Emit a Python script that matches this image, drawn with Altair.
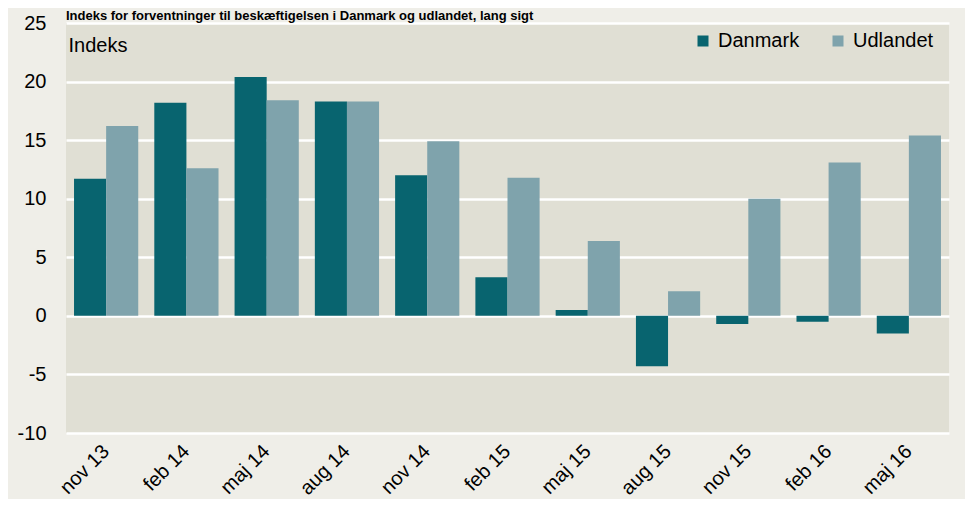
import altair as alt
import pandas as pd

categories = ["nov 13", "feb 14", "maj 14", "aug 14", "nov 14", "feb 15",
              "maj 15", "aug 15", "nov 15", "feb 16", "maj 16"]
danmark = [11.7, 18.2, 20.4, 18.3, 12.0, 3.3, 0.5, -4.3, -0.7, -0.5, -1.5]
udlandet = [16.2, 12.6, 18.4, 18.3, 14.9, 11.8, 6.4, 2.1, 10.0, 13.1, 15.4]
series = ["Danmark", "Udlandet"]
colors = ["#08646f", "#7fa3ac"]
y_ticks = [-10, -5, 0, 5, 10, 15, 20, 25]
title_text = "Indeks for forventninger til beskæftigelsen i Danmark og udlandet, lang sigt"

rows = []
for i, c in enumerate(categories):
    rows.append({"periode": c, "serie": series[0], "value": danmark[i]})
    rows.append({"periode": c, "serie": series[1], "value": udlandet[i]})
df = pd.DataFrame(rows)

FONT = "Liberation Sans"

chart = alt.Chart(df).mark_bar().encode(
    x=alt.X("periode:N", sort=categories,
            scale=alt.Scale(paddingInner=0.2, paddingOuter=0.1),
            axis=alt.Axis(title=None, labelAngle=-45, labelAlign="right",
                          labelBaseline="middle", labelPadding=15,
                          labelFontSize=20, labelFont=FONT, labelColor="#000000",
                          ticks=False, domain=False, grid=False)),
    xOffset=alt.XOffset("serie:N", sort=series),
    y=alt.Y("value:Q", scale=alt.Scale(domain=[-10, 25], nice=False),
            axis=alt.Axis(values=y_ticks, title="Indeks", titleAngle=0,
                          labelExpr="toString(datum.value)",
                          titleX=2, titleY=28, titleAlign="left",
                          titleBaseline="alphabetic", titleFontSize=20,
                          titleFontWeight="normal", titleFont=FONT,
                          titleColor="#000000",
                          labelFontSize=20, labelFont=FONT, labelColor="#000000",
                          labelPadding=20, ticks=False, domain=False,
                          grid=True, gridColor="#ffffff", gridWidth=2.5)),
    color=alt.Color("serie:N", sort=series,
                    scale=alt.Scale(domain=series, range=colors),
                    legend=alt.Legend(title=None, orient="none", legendX=627,
                                      legendY=8, direction="horizontal",
                                      symbolType="square", symbolSize=121,
                                      symbolStrokeWidth=0, labelFontSize=20,
                                      labelFont=FONT, labelColor="#000000",
                                      labelOffset=5, columnPadding=28)),
).properties(
    width=883,
    height=410,
    autosize=alt.AutoSizeParams(type="none"),
    padding={"left": 58, "top": 15, "right": 16, "bottom": 66},
    background="#efeee8",
    title=alt.TitleParams(title_text, anchor="start", frame="group", dx=0,
                          offset=-20, baseline="alphabetic", fontSize=13,
                          fontWeight="bold", font=FONT, color="#000000"),
).configure_view(fill="#e0dfd4", stroke=None)

chart.save("out.html", embed_options={"renderer": "svg", "actions": False})
